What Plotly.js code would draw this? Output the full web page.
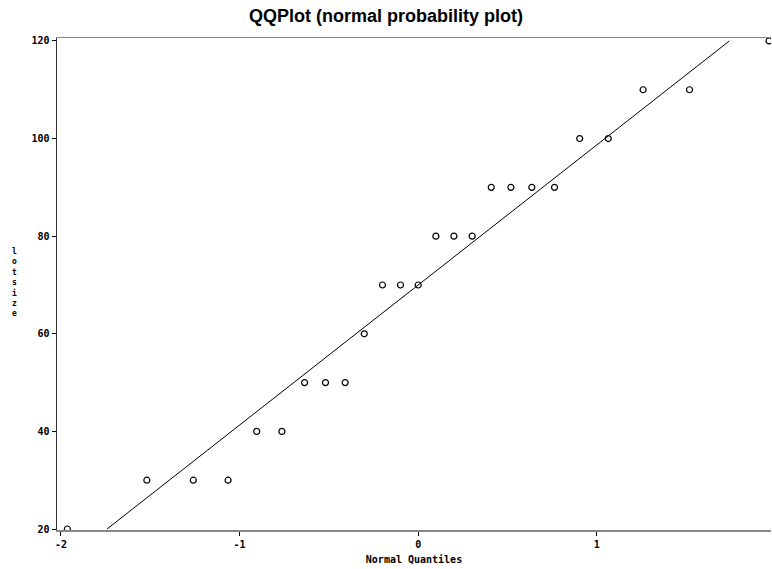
<!DOCTYPE html>
<html>
<head>
<meta charset="utf-8">
<script src="https://cdn.plot.ly/plotly-3.0.1.min.js"></script>
<style>html,body{margin:0;padding:0;background:#fff;}#chart{width:772px;height:569px;}</style>
</head>
<body>
<div id="chart"></div>
<script>
const normalQuantiles = [-1.964, -1.519, -1.259, -1.064, -0.904, -0.763, -0.636, -0.519, -0.409, -0.302, -0.200, -0.099, 0.000,
                         0.099, 0.200, 0.302, 0.409, 0.519, 0.636, 0.763, 0.904, 1.064, 1.259, 1.519, 1.964];
const lotsize = [20, 30, 30, 30, 40, 40, 50, 50, 50, 60, 70, 70, 70,
                 80, 80, 80, 90, 90, 90, 90, 100, 100, 110, 110, 120];
// Reference line (mean 70, sd ~28.7)
const refLineX = [-1.742, 1.742];
const refLineY = [20, 120];
const xTicks = [-2, -1, 0, 1];
const yTicks = [20, 40, 60, 80, 100, 120];
const yTitle = 'lotsize';

const tickFont = {family: 'DejaVu Sans Mono', size: 10, color: '#000', weight: 'bold'};

const data = [
  {x: refLineX, y: refLineY, type: 'scatter', mode: 'lines',
   line: {color: '#000', width: 1}, hoverinfo: 'skip'},
  {x: normalQuantiles, y: lotsize, type: 'scatter', mode: 'markers',
   marker: {symbol: 'circle-open', size: 6, color: '#000', line: {width: 1.2, color: '#000'}}}
];

const layout = {
  width: 772, height: 569,
  margin: {l: 57, r: 1, t: 38, b: 39},
  paper_bgcolor: '#fff', plot_bgcolor: '#fff',
  showlegend: false,
  title: {text: 'QQPlot (normal probability plot)', x: 0.5, xanchor: 'center', y: 0.972, yanchor: 'middle',
          font: {family: 'Liberation Sans', size: 18, color: '#000', weight: 'bold'}},
  xaxis: {
    range: [-2.022, 1.975], tickvals: xTicks, ticktext: xTicks.map(String),
    showgrid: false, zeroline: false,
    showline: true, linecolor: '#888', linewidth: 1.5, mirror: true,
    ticks: 'outside', ticklen: 4, tickcolor: '#000', tickwidth: 1,
    tickfont: tickFont,
    title: {text: 'Normal Quantiles', font: {family: 'DejaVu Sans Mono', size: 10, color: '#000', weight: 'bold'}, standoff: 7}
  },
  yaxis: {
    range: [19.8, 120.6], tickvals: yTicks, ticktext: yTicks.map(String),
    showgrid: false, zeroline: false,
    showline: true, linecolor: '#333', linewidth: 1.5, mirror: false,
    ticks: 'outside', ticklen: 4, tickcolor: '#000', tickwidth: 1,
    tickfont: tickFont
  },
  annotations: [
    {text: yTitle.split('').join('<br>'), xref: 'paper', yref: 'paper', x: -0.060, y: 0.504,
     xanchor: 'center', yanchor: 'middle', showarrow: false,
     font: {family: 'DejaVu Sans Mono', size: 8, color: '#000', weight: 'bold'}}
  ]
};

Plotly.newPlot('chart', data, layout, {displayModeBar: false, staticPlot: true});
</script>
</body>
</html>
